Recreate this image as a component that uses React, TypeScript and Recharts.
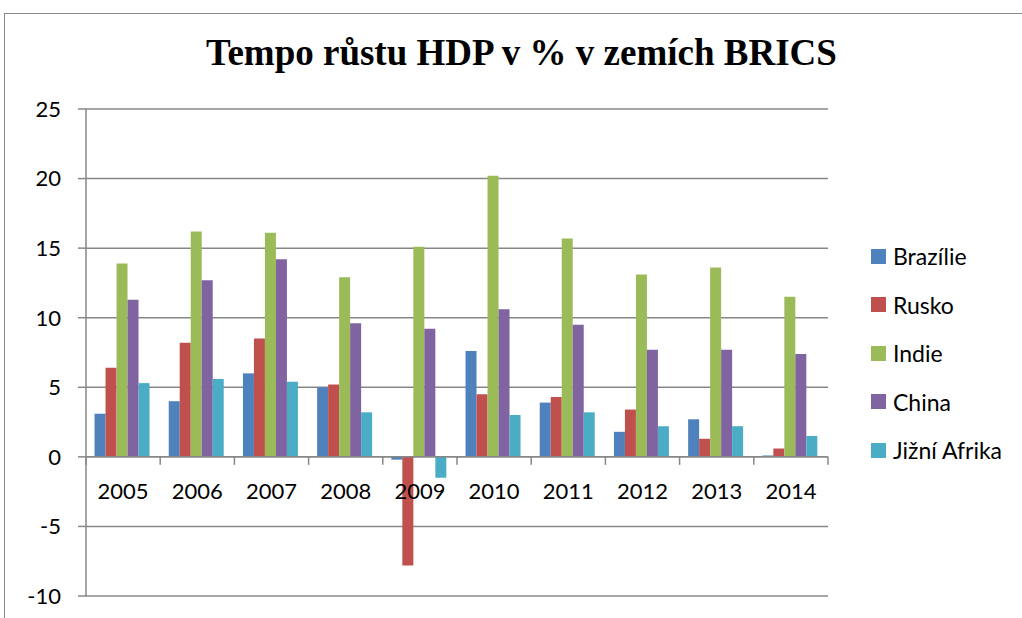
import { Bar, BarChart, CartesianGrid, ReferenceLine, XAxis, YAxis } from 'recharts'

const years = ['2005', '2006', '2007', '2008', '2009', '2010', '2011', '2012', '2013', '2014']
const brazilie = [3.1, 4.0, 6.0, 5.0, -0.2, 7.6, 3.9, 1.8, 2.7, 0.1]
const rusko = [6.4, 8.2, 8.5, 5.2, -7.8, 4.5, 4.3, 3.4, 1.3, 0.6]
const indie = [13.9, 16.2, 16.1, 12.9, 15.1, 20.2, 15.7, 13.1, 13.6, 11.5]
const china = [11.3, 12.7, 14.2, 9.6, 9.2, 10.6, 9.5, 7.7, 7.7, 7.4]
const jizniAfrika = [5.3, 5.6, 5.4, 3.2, -1.5, 3.0, 3.2, 2.2, 2.2, 1.5]
const yTicks = [-10, -5, 0, 5, 10, 15, 20, 25]

const series = [
  { key: 'brazilie', name: 'Brazílie', color: '#4F81BD' },
  { key: 'rusko', name: 'Rusko', color: '#C0504D' },
  { key: 'indie', name: 'Indie', color: '#9BBB59' },
  { key: 'china', name: 'China', color: '#8064A2' },
  { key: 'jizniAfrika', name: 'Jižní Afrika', color: '#4BACC6' },
]

const data = years.map((year, i) => ({
  year,
  brazilie: brazilie[i],
  rusko: rusko[i],
  indie: indie[i],
  china: china[i],
  jizniAfrika: jizniAfrika[i],
}))

const W = 1022
const H = 618
const X_AXIS_H = 1
const M = { top: 109, right: 194, bottom: 22 - X_AXIS_H, left: 0 }
const Y_AXIS_W = 86
const Y_MIN = -10
const Y_MAX = 25
const GRAY = '#878787'
const FONT = 'Lato, "Open Sans", sans-serif'

const plotH = H - M.top - M.bottom - X_AXIS_H
const plotW = W - M.left - M.right - Y_AXIS_W
const zeroY = M.top + (plotH * Y_MAX) / (Y_MAX - Y_MIN)
const band = plotW / years.length

// category axis sits on the zero line, ticks between categories
function YearTick(props: any) {
  const { x, payload, index } = props
  const left = x - band / 2
  return (
    <g>
      <line x1={left} y1={zeroY} x2={left} y2={zeroY + 8} stroke={GRAY} strokeWidth={1.5} />
      {index === years.length - 1 ? (
        <line x1={left + band} y1={zeroY} x2={left + band} y2={zeroY + 8} stroke={GRAY} strokeWidth={1.5} />
      ) : null}
      <text x={x} y={zeroY + 42} textAnchor="middle" fontSize={22} fontFamily={FONT} fill="#000">
        {payload.value}
      </text>
    </g>
  )
}

export default function App() {
  return (
    <div style={{ position: 'absolute', left: 0, top: 0, width: W, height: H, overflow: 'hidden', background: '#fff' }}>
      <div
        style={{
          position: 'absolute',
          left: 4,
          top: 13,
          width: 1100,
          height: 700,
          border: `1.5px solid ${GRAY}`,
        }}
      />
      <div
        style={{
          position: 'absolute',
          left: 0,
          width: 1043,
          top: 30,
          textAlign: 'center',
          fontFamily: '"Liberation Serif", "Times New Roman", serif',
          fontWeight: 'bold',
          fontSize: 37,
          lineHeight: '46px',
          color: '#000',
        }}
      >
        Tempo růstu HDP v % v zemích BRICS
      </div>
      <div style={{ position: 'absolute', left: 0, top: 0 }}>
        <BarChart width={W} height={H} data={data} margin={M} barCategoryGap="11.5%" barGap={0}>
          <CartesianGrid vertical={false} stroke={GRAY} strokeWidth={1.5} />
          <XAxis
            dataKey="year"
            height={X_AXIS_H}
            axisLine={false}
            tickLine={false}
            interval={0}
            tick={<YearTick />}
          />
          <YAxis
            width={Y_AXIS_W}
            domain={[Y_MIN, Y_MAX]}
            ticks={yTicks}
            interval={0}
            axisLine={{ stroke: GRAY, strokeWidth: 1.5 }}
            tickLine={{ stroke: GRAY, strokeWidth: 1.5 }}
            tickSize={8}
            tickMargin={17}
            tick={{ fontSize: 22, fontFamily: FONT, fill: '#000' }}
          />
          <ReferenceLine y={0} stroke={GRAY} strokeWidth={1.5} />
          {series.map((s) => (
            <Bar key={s.key} dataKey={s.key} name={s.name} fill={s.color} isAnimationActive={false} />
          ))}
        </BarChart>
      </div>
      <div style={{ position: 'absolute', left: 871, top: 232, fontFamily: FONT, fontSize: 23, color: '#000' }}>
        {series.map((s) => (
          <div key={s.key} style={{ display: 'flex', alignItems: 'center', height: 48.5 }}>
            <span style={{ width: 15, height: 15, background: s.color, marginRight: 7, display: 'inline-block' }} />
            <span>{s.name}</span>
          </div>
        ))}
      </div>
    </div>
  )
}
